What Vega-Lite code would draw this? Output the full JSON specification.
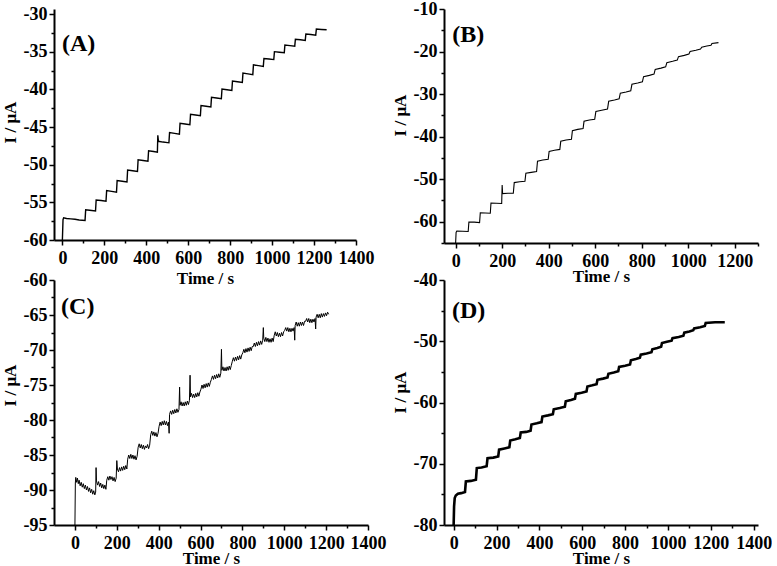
{
  "$schema": "https://vega.github.io/schema/vega-lite/v6.json",
  "padding": {"left": 1, "top": 0, "right": 0, "bottom": 0},
  "bounds": "flush",
  "columns": 2,
  "spacing": {"row": 37, "column": 76},
  "config": {
    "view": {"stroke": null},
    "font": "Liberation Serif",
    "axis": {
      "labelFont": "Liberation Serif", "titleFont": "Liberation Serif",
      "labelFontSize": 18, "titleFontSize": 17,
      "labelFontWeight": "bold", "titleFontWeight": "bold",
      "labelColor": "#000", "titleColor": "#000",
      "domainColor": "#000", "domainWidth": 2,
      "tickColor": "#000", "tickWidth": 1.5,
      "grid": false, "labelOverlap": false, "labelFlush": false
    }
  },
  "datasets": {
    "A": [
      {"t":0,"I":-60},{"t":3,"I":-57.3},{"t":6,"I":-57.05},{"t":20,"I":-57.15},{"t":40,"I":-57.2},{"t":60,"I":-57.25},{"t":80,"I":-57.35},{"t":108,"I":-57.4},
      {"t":111,"I":-56.0},{"t":130,"I":-56.05},{"t":158,"I":-56.15},
      {"t":161,"I":-54.7},{"t":185,"I":-54.75},{"t":208,"I":-54.85},
      {"t":211,"I":-53.45},{"t":235,"I":-53.55},{"t":258,"I":-53.65},
      {"t":261,"I":-52.1},{"t":285,"I":-52.2},{"t":308,"I":-52.3},
      {"t":311,"I":-50.7},{"t":335,"I":-50.8},{"t":358,"I":-50.9},
      {"t":361,"I":-49.35},{"t":385,"I":-49.45},{"t":408,"I":-49.55},
      {"t":411,"I":-48.15},{"t":435,"I":-48.25},{"t":453,"I":-48.35},
      {"t":455,"I":-46.1},{"t":458,"I":-46.9},{"t":480,"I":-47.0},{"t":508,"I":-47.1},
      {"t":511,"I":-45.75},{"t":535,"I":-45.85},{"t":558,"I":-45.95},
      {"t":561,"I":-44.5},{"t":585,"I":-44.6},{"t":608,"I":-44.7},
      {"t":611,"I":-43.3},{"t":635,"I":-43.4},{"t":658,"I":-43.5},
      {"t":661,"I":-42.15},{"t":685,"I":-42.25},{"t":708,"I":-42.35},
      {"t":711,"I":-41.05},{"t":735,"I":-41.15},{"t":758,"I":-41.25},
      {"t":761,"I":-39.95},{"t":785,"I":-40.05},{"t":808,"I":-40.15},
      {"t":811,"I":-38.9},{"t":835,"I":-39.0},{"t":858,"I":-39.1},
      {"t":861,"I":-37.85},{"t":885,"I":-37.95},{"t":908,"I":-38.05},
      {"t":911,"I":-36.75},{"t":935,"I":-36.85},{"t":958,"I":-36.95},
      {"t":961,"I":-35.9},{"t":985,"I":-35.98},{"t":1008,"I":-36.05},
      {"t":1011,"I":-35.0},{"t":1035,"I":-35.08},{"t":1058,"I":-35.15},
      {"t":1061,"I":-34.12},{"t":1085,"I":-34.2},{"t":1108,"I":-34.27},
      {"t":1111,"I":-33.35},{"t":1135,"I":-33.42},{"t":1158,"I":-33.5},
      {"t":1161,"I":-32.65},{"t":1185,"I":-32.72},{"t":1208,"I":-32.8},
      {"t":1211,"I":-32.0},{"t":1235,"I":-32.05},{"t":1260,"I":-32.1}
    ],
    "B": [
      {"t":0,"I":-65},{"t":2,"I":-62.5},{"t":5,"I":-62.2},{"t":30,"I":-62.25},{"t":54,"I":-62.3},
      {"t":57,"I":-60.1},{"t":80,"I":-60.1},{"t":103,"I":-60.2},
      {"t":106,"I":-57.9},{"t":128,"I":-57.95},{"t":149,"I":-58.0},
      {"t":152,"I":-55.6},{"t":175,"I":-55.65},{"t":198,"I":-55.7},
      {"t":200,"I":-51.4},{"t":202,"I":-53.4},{"t":225,"I":-53.3},{"t":248,"I":-53.3},
      {"t":252,"I":-50.8},{"t":275,"I":-50.6},{"t":298,"I":-50.5},
      {"t":302,"I":-48.6},{"t":325,"I":-48.4},{"t":348,"I":-48.2},
      {"t":352,"I":-45.8},{"t":375,"I":-45.5},{"t":398,"I":-45.3},
      {"t":402,"I":-43.5},{"t":425,"I":-43.2},{"t":448,"I":-43.0},
      {"t":452,"I":-41.1},{"t":475,"I":-40.8},{"t":498,"I":-40.6},
      {"t":502,"I":-38.6},{"t":525,"I":-38.3},{"t":548,"I":-38.1},
      {"t":552,"I":-36.4},{"t":575,"I":-36.1},{"t":598,"I":-35.9},
      {"t":603,"I":-34.1},{"t":628,"I":-33.8},{"t":653,"I":-33.5},
      {"t":658,"I":-31.7},{"t":683,"I":-31.4},{"t":703,"I":-31.1},
      {"t":708,"I":-29.8},{"t":733,"I":-29.5},{"t":753,"I":-29.2},
      {"t":758,"I":-27.7},{"t":783,"I":-27.4},{"t":803,"I":-27.1},
      {"t":808,"I":-25.9},{"t":833,"I":-25.6},{"t":853,"I":-25.3},
      {"t":858,"I":-24.2},{"t":883,"I":-23.9},{"t":903,"I":-23.6},
      {"t":908,"I":-22.6},{"t":933,"I":-22.3},{"t":953,"I":-22.0},
      {"t":958,"I":-21.2},{"t":983,"I":-20.9},{"t":1003,"I":-20.6},
      {"t":1008,"I":-20.0},{"t":1033,"I":-19.7},{"t":1053,"I":-19.4},
      {"t":1058,"I":-19.0},{"t":1080,"I":-18.7},{"t":1098,"I":-18.5},
      {"t":1102,"I":-18.1},{"t":1130,"I":-17.9}
    ],
    "C": [
      {"t":0,"I":-95},{"t":2,"I":-89},{"t":4,"I":-88.2},{"t":8,"I":-88.9},{"t":12,"I":-88.3},{"t":16,"I":-89.1},{"t":20,"I":-88.6},{"t":25,"I":-89.4},{"t":30,"I":-88.9},{"t":35,"I":-89.6},{"t":40,"I":-89.1},{"t":45,"I":-89.8},{"t":50,"I":-89.3},{"t":55,"I":-90.0},{"t":60,"I":-89.5},{"t":65,"I":-90.2},{"t":70,"I":-89.7},{"t":75,"I":-90.4},{"t":80,"I":-89.9},{"t":85,"I":-90.6},{"t":90,"I":-90.1},{"t":95,"I":-90.7},{"t":99,"I":-90.3},
      {"t":101,"I":-86.8},{"t":103,"I":-88.7},{"t":108,"I":-89.3},{"t":113,"I":-88.8},{"t":118,"I":-89.5},{"t":123,"I":-89.0},{"t":128,"I":-89.7},{"t":133,"I":-89.2},{"t":138,"I":-89.8},{"t":143,"I":-89.3},{"t":148,"I":-89.9},
      {"t":152,"I":-88.6},{"t":157,"I":-88.1},{"t":162,"I":-88.6},{"t":167,"I":-88.0},{"t":172,"I":-88.5},{"t":177,"I":-88.1},{"t":182,"I":-88.7},{"t":187,"I":-88.2},{"t":192,"I":-88.8},{"t":197,"I":-88.3},
      {"t":200,"I":-85.8},{"t":203,"I":-87.0},{"t":208,"I":-87.4},{"t":213,"I":-86.8},{"t":218,"I":-87.3},{"t":223,"I":-86.7},{"t":228,"I":-87.2},{"t":233,"I":-86.6},{"t":238,"I":-87.1},{"t":243,"I":-86.5},{"t":248,"I":-87.0},
      {"t":252,"I":-85.6},{"t":257,"I":-85.0},{"t":262,"I":-85.5},{"t":267,"I":-84.9},{"t":272,"I":-85.5},{"t":277,"I":-85.0},{"t":282,"I":-85.6},{"t":287,"I":-85.1},{"t":292,"I":-85.7},{"t":297,"I":-85.2},
      {"t":302,"I":-83.9},{"t":307,"I":-83.4},{"t":312,"I":-84.0},{"t":317,"I":-83.5},{"t":322,"I":-84.1},{"t":327,"I":-83.6},{"t":332,"I":-84.2},{"t":337,"I":-83.7},{"t":342,"I":-84.0},{"t":347,"I":-83.5},{"t":352,"I":-84.1},{"t":357,"I":-83.6},
      {"t":362,"I":-82.1},{"t":367,"I":-81.6},{"t":372,"I":-82.2},{"t":377,"I":-81.7},{"t":382,"I":-82.3},{"t":387,"I":-81.8},{"t":392,"I":-82.4},{"t":397,"I":-81.9},
      {"t":402,"I":-80.9},{"t":407,"I":-80.3},{"t":412,"I":-80.8},{"t":417,"I":-80.2},{"t":422,"I":-80.7},{"t":427,"I":-80.1},{"t":432,"I":-80.7},{"t":437,"I":-80.2},{"t":442,"I":-80.8},{"t":447,"I":-80.3},
      {"t":450,"I":-81.9},{"t":452,"I":-79.2},{"t":457,"I":-78.7},{"t":462,"I":-79.2},{"t":467,"I":-78.6},{"t":472,"I":-79.1},{"t":477,"I":-78.5},{"t":482,"I":-79.0},{"t":487,"I":-78.4},{"t":492,"I":-78.9},{"t":497,"I":-78.5},
      {"t":500,"I":-75.3},{"t":502,"I":-77.9},{"t":507,"I":-77.4},{"t":512,"I":-78.0},{"t":517,"I":-77.5},{"t":522,"I":-78.0},{"t":527,"I":-77.4},{"t":532,"I":-77.9},{"t":537,"I":-77.3},{"t":542,"I":-77.8},{"t":547,"I":-77.2},
      {"t":550,"I":-73.6},{"t":552,"I":-76.7},{"t":557,"I":-76.2},{"t":562,"I":-76.8},{"t":567,"I":-76.3},{"t":572,"I":-76.8},{"t":577,"I":-76.2},{"t":582,"I":-76.7},{"t":587,"I":-76.1},{"t":592,"I":-76.6},{"t":597,"I":-76.0},
      {"t":602,"I":-75.6},{"t":607,"I":-75.0},{"t":612,"I":-75.5},{"t":617,"I":-74.9},{"t":622,"I":-75.4},{"t":627,"I":-74.8},{"t":632,"I":-75.3},{"t":637,"I":-74.7},{"t":642,"I":-75.2},{"t":647,"I":-74.6},
      {"t":652,"I":-74.2},{"t":657,"I":-73.7},{"t":662,"I":-74.2},{"t":667,"I":-73.6},{"t":672,"I":-74.1},{"t":677,"I":-73.5},{"t":682,"I":-74.0},{"t":687,"I":-73.4},{"t":692,"I":-73.9},{"t":697,"I":-73.3},
      {"t":700,"I":-69.9},{"t":702,"I":-72.9},{"t":707,"I":-72.4},{"t":712,"I":-73.0},{"t":717,"I":-72.5},{"t":722,"I":-73.0},{"t":727,"I":-72.4},{"t":732,"I":-72.9},{"t":737,"I":-72.3},{"t":742,"I":-72.8},{"t":747,"I":-72.2},
      {"t":752,"I":-71.6},{"t":757,"I":-71.1},{"t":762,"I":-71.6},{"t":767,"I":-71.0},{"t":772,"I":-71.5},{"t":777,"I":-70.9},{"t":782,"I":-71.4},{"t":787,"I":-70.8},{"t":792,"I":-71.3},{"t":797,"I":-70.7},
      {"t":802,"I":-70.4},{"t":807,"I":-69.9},{"t":812,"I":-70.4},{"t":817,"I":-69.8},{"t":822,"I":-70.3},{"t":827,"I":-69.7},{"t":832,"I":-70.2},{"t":837,"I":-69.6},{"t":842,"I":-70.1},{"t":847,"I":-69.5},
      {"t":852,"I":-69.5},{"t":857,"I":-69.0},{"t":862,"I":-69.5},{"t":867,"I":-68.9},{"t":872,"I":-69.4},{"t":877,"I":-68.8},{"t":882,"I":-69.3},{"t":887,"I":-68.7},{"t":892,"I":-69.2},{"t":897,"I":-68.6},
      {"t":900,"I":-66.8},{"t":902,"I":-68.3},{"t":907,"I":-68.8},{"t":912,"I":-68.2},{"t":917,"I":-68.8},{"t":922,"I":-68.3},{"t":927,"I":-68.9},{"t":932,"I":-68.4},{"t":937,"I":-68.9},{"t":942,"I":-68.3},{"t":947,"I":-68.8},
      {"t":952,"I":-67.9},{"t":957,"I":-67.4},{"t":962,"I":-68.0},{"t":967,"I":-67.5},{"t":972,"I":-68.1},{"t":977,"I":-67.6},{"t":982,"I":-68.1},{"t":987,"I":-67.5},{"t":992,"I":-68.0},{"t":997,"I":-67.4},
      {"t":1002,"I":-67.2},{"t":1007,"I":-66.8},{"t":1012,"I":-67.3},{"t":1017,"I":-66.8},{"t":1022,"I":-67.4},{"t":1027,"I":-66.9},{"t":1032,"I":-67.4},{"t":1037,"I":-66.9},{"t":1042,"I":-67.3},{"t":1047,"I":-66.8},
      {"t":1050,"I":-68.6},{"t":1052,"I":-66.5},{"t":1057,"I":-66.0},{"t":1062,"I":-66.6},{"t":1067,"I":-66.1},{"t":1072,"I":-66.6},{"t":1077,"I":-66.0},{"t":1082,"I":-66.5},{"t":1087,"I":-66.0},{"t":1092,"I":-66.5},{"t":1097,"I":-65.9},
      {"t":1102,"I":-65.9},{"t":1107,"I":-65.5},{"t":1112,"I":-66.0},{"t":1117,"I":-65.5},{"t":1122,"I":-66.1},{"t":1127,"I":-65.6},{"t":1132,"I":-66.1},{"t":1137,"I":-65.6},{"t":1142,"I":-66.0},{"t":1147,"I":-65.5},
      {"t":1150,"I":-67.0},{"t":1152,"I":-65.3},{"t":1157,"I":-64.9},{"t":1162,"I":-65.4},{"t":1167,"I":-64.9},{"t":1172,"I":-65.4},{"t":1177,"I":-64.8},{"t":1182,"I":-65.3},{"t":1187,"I":-64.8},{"t":1192,"I":-65.2},{"t":1197,"I":-64.7},{"t":1202,"I":-65.1},{"t":1207,"I":-64.6},{"t":1212,"I":-64.9}
    ],
    "D": [
      {"t":0,"I":-80},{"t":2,"I":-77},{"t":5,"I":-75.6},{"t":10,"I":-75.2},{"t":20,"I":-74.9},{"t":35,"I":-74.8},{"t":53,"I":-74.6},
      {"t":57,"I":-72.9},{"t":80,"I":-72.8},{"t":104,"I":-72.6},
      {"t":108,"I":-70.7},{"t":130,"I":-70.6},{"t":154,"I":-70.4},
      {"t":158,"I":-69.1},{"t":185,"I":-69.0},{"t":208,"I":-68.8},
      {"t":212,"I":-67.7},{"t":237,"I":-67.5},{"t":260,"I":-67.3},
      {"t":264,"I":-66.2},{"t":288,"I":-66.0},{"t":309,"I":-65.8},
      {"t":313,"I":-64.9},{"t":338,"I":-64.8},{"t":359,"I":-64.6},
      {"t":363,"I":-63.6},{"t":388,"I":-63.4},{"t":410,"I":-63.2},
      {"t":414,"I":-62.3},{"t":440,"I":-62.1},{"t":463,"I":-61.9},
      {"t":467,"I":-61.1},{"t":495,"I":-60.9},{"t":519,"I":-60.7},
      {"t":523,"I":-59.8},{"t":547,"I":-59.6},{"t":566,"I":-59.4},
      {"t":570,"I":-58.6},{"t":597,"I":-58.4},{"t":620,"I":-58.2},
      {"t":624,"I":-57.4},{"t":647,"I":-57.2},{"t":667,"I":-57.0},
      {"t":671,"I":-56.3},{"t":697,"I":-56.1},{"t":718,"I":-55.9},
      {"t":722,"I":-55.3},{"t":747,"I":-55.1},{"t":768,"I":-54.9},
      {"t":772,"I":-54.2},{"t":800,"I":-54.0},{"t":823,"I":-53.8},
      {"t":827,"I":-53.1},{"t":850,"I":-52.9},{"t":869,"I":-52.7},
      {"t":873,"I":-52.2},{"t":900,"I":-52.0},{"t":923,"I":-51.8},
      {"t":927,"I":-51.3},{"t":950,"I":-51.1},{"t":968,"I":-50.9},
      {"t":972,"I":-50.3},{"t":995,"I":-50.1},{"t":1017,"I":-49.9},
      {"t":1021,"I":-49.5},{"t":1050,"I":-49.3},{"t":1072,"I":-49.1},
      {"t":1076,"I":-48.6},{"t":1100,"I":-48.4},{"t":1118,"I":-48.2},
      {"t":1122,"I":-47.9},{"t":1150,"I":-47.7},{"t":1172,"I":-47.5},
      {"t":1176,"I":-47.0},{"t":1220,"I":-46.9},{"t":1265,"I":-46.9}
    ]
  },
  "concat": [
    {
      "width": 302, "height": 231,
      "resolve": {"axis": {"x": "independent", "y": "independent"}},
      "layer": [
        {
          "data": {"values": [{"label": "(A)"}]},
          "mark": {"type": "text", "align": "left", "baseline": "middle", "fontSize": 24, "fontWeight": "bold", "font": "Liberation Serif", "color": "#000"},
          "encoding": {
            "text": {"field": "label"},
            "x": {"datum": -2, "type": "quantitative",
              "axis": {"orient": "bottom", "values": [100,300,500,700,900,1100,1300], "labels": false, "title": null, "domain": false, "tickSize": 3}},
            "y": {"datum": -34, "type": "quantitative",
              "axis": {"orient": "left", "values": [-57.5,-52.5,-47.5,-42.5,-37.5,-32.5], "labels": false, "title": null, "domain": false, "tickSize": 3}}
          }
        },
        {
          "data": {"name": "A"},
          "mark": {"type": "line", "color": "#000", "strokeWidth": 1.4},
          "encoding": {
            "x": {"field": "t", "type": "quantitative",
              "scale": {"domain": [-40, 1400], "nice": false, "zero": false},
              "axis": {"orient": "bottom", "title": "Time / s", "values": [0,200,400,600,800,1000,1200,1400],
                "labelExpr": "'' + datum.value", "labelOverlap": false, "tickSize": 5,
                "labelPadding": 4, "titleY": 30}},
            "y": {"field": "I", "type": "quantitative",
              "scale": {"domain": [-60, -29.336], "nice": false, "zero": false},
              "axis": {"orient": "left", "title": "I / μA", "values": [-60,-55,-50,-45,-40,-35,-30],
                "labelExpr": "'' + datum.value", "labelOverlap": false, "tickSize": 5,
                "labelPadding": 2, "titleX": -35, "titleY": 113}}
          }
        }
      ]
    },
    {
      "width": 314, "height": 234,
      "resolve": {"axis": {"x": "independent", "y": "independent"}},
      "layer": [
        {
          "data": {"values": [{"label": "(B)"}]},
          "mark": {"type": "text", "align": "left", "baseline": "middle", "fontSize": 24, "fontWeight": "bold", "font": "Liberation Serif", "color": "#000"},
          "encoding": {
            "text": {"field": "label"},
            "x": {"datum": -15, "type": "quantitative",
              "axis": {"orient": "bottom", "values": [100,300,500,700,900,1100,1300], "labels": false, "title": null, "domain": false, "tickSize": 3}},
            "y": {"datum": -16.1, "type": "quantitative",
              "axis": {"orient": "left", "values": [-65,-55,-45,-35,-25,-15], "labels": false, "title": null, "domain": false, "tickSize": 3}}
          }
        },
        {
          "data": {"name": "B"},
          "mark": {"type": "line", "color": "#000", "strokeWidth": 1.1},
          "encoding": {
            "x": {"field": "t", "type": "quantitative",
              "scale": {"domain": [-50, 1300], "nice": false, "zero": false},
              "axis": {"orient": "bottom", "title": "Time / s", "values": [0,200,400,600,800,1000,1200],
                "labelExpr": "'' + datum.value", "labelOverlap": false, "tickSize": 5,
                "labelPadding": 4, "titleY": 25}},
            "y": {"field": "I", "type": "quantitative",
              "scale": {"domain": [-65, -10], "nice": false, "zero": false},
              "axis": {"orient": "left", "title": "I / μA", "values": [-60,-50,-40,-30,-20,-10],
                "labelExpr": "'' + datum.value", "labelOverlap": false, "tickSize": 5,
                "labelPadding": 2, "titleX": -35, "titleY": 106}}
          }
        }
      ]
    },
    {
      "width": 314, "height": 245,
      "resolve": {"axis": {"x": "independent", "y": "independent"}},
      "layer": [
        {
          "data": {"values": [{"label": "(C)"}]},
          "mark": {"type": "text", "align": "left", "baseline": "middle", "fontSize": 24, "fontWeight": "bold", "font": "Liberation Serif", "color": "#000"},
          "encoding": {
            "text": {"field": "label"},
            "x": {"datum": -66, "type": "quantitative",
              "axis": {"orient": "bottom", "values": [100,300,500,700,900,1100,1300], "labels": false, "title": null, "domain": false, "tickSize": 3}},
            "y": {"datum": -63.9, "type": "quantitative",
              "axis": {"orient": "left", "values": [-92.5,-87.5,-82.5,-77.5,-72.5,-67.5,-62.5], "labels": false, "title": null, "domain": false, "tickSize": 3}}
          }
        },
        {
          "data": {"name": "C"},
          "mark": {"type": "line", "color": "#000", "strokeWidth": 1},
          "encoding": {
            "x": {"field": "t", "type": "quantitative",
              "scale": {"domain": [-100, 1400], "nice": false, "zero": false},
              "axis": {"orient": "bottom", "title": "Time / s", "values": [0,200,400,600,800,1000,1200,1400],
                "labelExpr": "'' + datum.value", "labelOverlap": false, "tickSize": 5,
                "labelPadding": 4, "titleY": 25}},
            "y": {"field": "I", "type": "quantitative",
              "scale": {"domain": [-95, -60], "nice": false, "zero": false},
              "axis": {"orient": "left", "title": "I / μA", "values": [-95,-90,-85,-80,-75,-70,-65,-60],
                "labelExpr": "'' + datum.value", "labelOverlap": false, "tickSize": 5,
                "labelPadding": 2, "titleX": -35, "titleY": 105}}
          }
        }
      ]
    },
    {
      "width": 314, "height": 245,
      "resolve": {"axis": {"x": "independent", "y": "independent"}},
      "layer": [
        {
          "data": {"values": [{"label": "(D)"}]},
          "mark": {"type": "text", "align": "left", "baseline": "middle", "fontSize": 24, "fontWeight": "bold", "font": "Liberation Serif", "color": "#000"},
          "encoding": {
            "text": {"field": "label"},
            "x": {"datum": -8, "type": "quantitative",
              "axis": {"orient": "bottom", "values": [100,300,500,700,900,1100,1300], "labels": false, "title": null, "domain": false, "tickSize": 3}},
            "y": {"datum": -45.1, "type": "quantitative",
              "axis": {"orient": "left", "values": [-75,-65,-55,-45], "labels": false, "title": null, "domain": false, "tickSize": 3}}
          }
        },
        {
          "data": {"name": "D"},
          "mark": {"type": "line", "color": "#000", "strokeWidth": 2.6},
          "encoding": {
            "x": {"field": "t", "type": "quantitative",
              "scale": {"domain": [-45, 1420], "nice": false, "zero": false},
              "axis": {"orient": "bottom", "title": "Time / s", "values": [0,200,400,600,800,1000,1200,1400],
                "labelExpr": "'' + datum.value", "labelOverlap": false, "tickSize": 5,
                "labelPadding": 4, "titleY": 25}},
            "y": {"field": "I", "type": "quantitative",
              "scale": {"domain": [-80, -40], "nice": false, "zero": false},
              "axis": {"orient": "left", "title": "I / μA", "values": [-80,-70,-60,-50,-40],
                "labelExpr": "'' + datum.value", "labelOverlap": false, "tickSize": 5,
                "labelPadding": 2, "titleX": -35, "titleY": 112}}
          }
        }
      ]
    }
  ]
}
